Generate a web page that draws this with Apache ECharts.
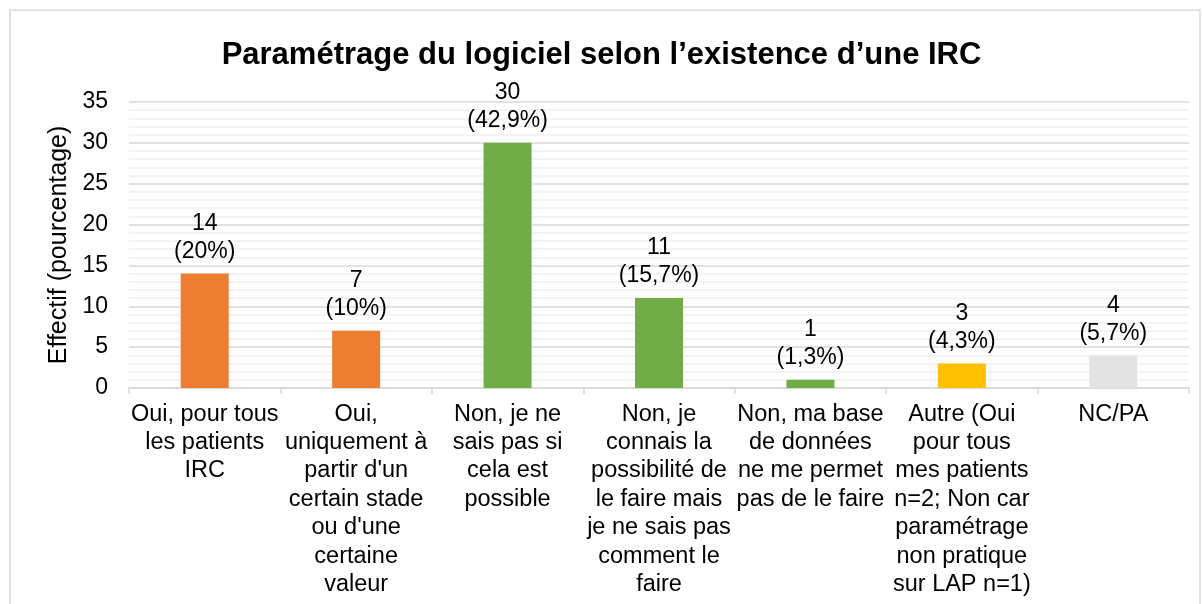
<!DOCTYPE html>
<html>
<head>
<meta charset="utf-8">
<script src="https://cdn.jsdelivr.net/npm/echarts@6/dist/echarts.min.js"></script>
<style>
  html, body { margin: 0; padding: 0; background: #fff; }
  #chart { width: 1203px; height: 604px; }
</style>
</head>
<body>
<div id="chart"></div>
<script>
// catégories (libellés avec retours à la ligne comme dans l'original)
const categories = [
    "Oui, pour tous\nles patients\nIRC",
    "Oui,\nuniquement à\npartir d'un\ncertain stade\nou d'une\ncertaine\nvaleur",
    "Non, je ne\nsais pas si\ncela est\npossible",
    "Non, je\nconnais la\npossibilité de\nle faire mais\nje ne sais pas\ncomment le\nfaire",
    "Non, ma base\nde données\nne me permet\npas de le faire",
    "Autre (Oui\npour tous\nmes patients\nn=2; Non car\nparamétrage\nnon pratique\nsur LAP n=1)",
    "NC/PA"
];
const effectifs = [14, 7, 30, 11, 1, 3, 4];
const pourcentages = ['20%', '10%', '42,9%', '15,7%', '1,3%', '4,3%', '5,7%'];
const couleurs = ['#ED7D31', '#ED7D31', '#70AD47', '#70AD47', '#70AD47', '#FFC000', '#E3E3E3'];

const font = 'Arial, "Liberation Sans", sans-serif';

let myChart = echarts.init(document.getElementById('chart'));

// chaque barre garde sa couleur
let seriesData = effectifs.map((v, i) => ({ value: v, itemStyle: { color: couleurs[i] } }));

let option = {
    animation: false,
    title: {
        text: 'Paramétrage du logiciel selon l’existence d’une IRC',
        left: 'center',
        top: 35,
        textStyle: { fontSize: 31, fontWeight: 'bold', color: '#000', fontFamily: font }
    },
    graphic: [{
        type: 'rect',
        shape: { x: 10, y: 10, width: 1190, height: 600 },
        style: { fill: 'none', stroke: '#D9D9D9', lineWidth: 1.5 },
        silent: true
    }],
    grid: { left: 129, right: 14, top: 102, bottom: 216 },
    xAxis: {
        type: 'category',
        data: categories,
        axisLine: { lineStyle: { color: '#D9D9D9', width: 1.5 } },
        axisTick: { show: true, length: 6, lineStyle: { color: '#D9D9D9', width: 1.5 } },
        axisLabel: {
            interval: 0,
            margin: 12,
            fontSize: 23.5,
            lineHeight: 28.4,
            color: '#000',
            fontFamily: font,
            align: 'center',
            verticalAlign: 'top'
        }
    },
    yAxis: {
        type: 'value',
        min: 0,
        max: 35,
        interval: 5,
        name: 'Effectif (pourcentage)',
        nameLocation: 'middle',
        nameGap: 56,
        nameRotate: 90,
        nameTextStyle: { fontSize: 25, color: '#000', fontFamily: font },
        axisLine: { show: false },
        axisTick: { show: false },
        axisLabel: { fontSize: 23, color: '#000', fontFamily: font, margin: 21 },
        splitLine: { lineStyle: { color: '#D9D9D9', width: 1.5 } },
        minorTick: { show: false, splitNumber: 5 },
        minorSplitLine: { show: true, lineStyle: { color: '#EFEFEF', width: 1.5 } }
    },
    series: [{
        type: 'bar',
        data: seriesData,
        barWidth: 48,
        label: {
            show: true,
            position: 'top',
            distance: 8,
            fontSize: 23,
            lineHeight: 28,
            color: '#000',
            fontFamily: font,
            formatter: p => p.value + '\n(' + pourcentages[p.dataIndex] + ')'
        }
    }]
};
myChart.setOption(option);
</script>
</body>
</html>
